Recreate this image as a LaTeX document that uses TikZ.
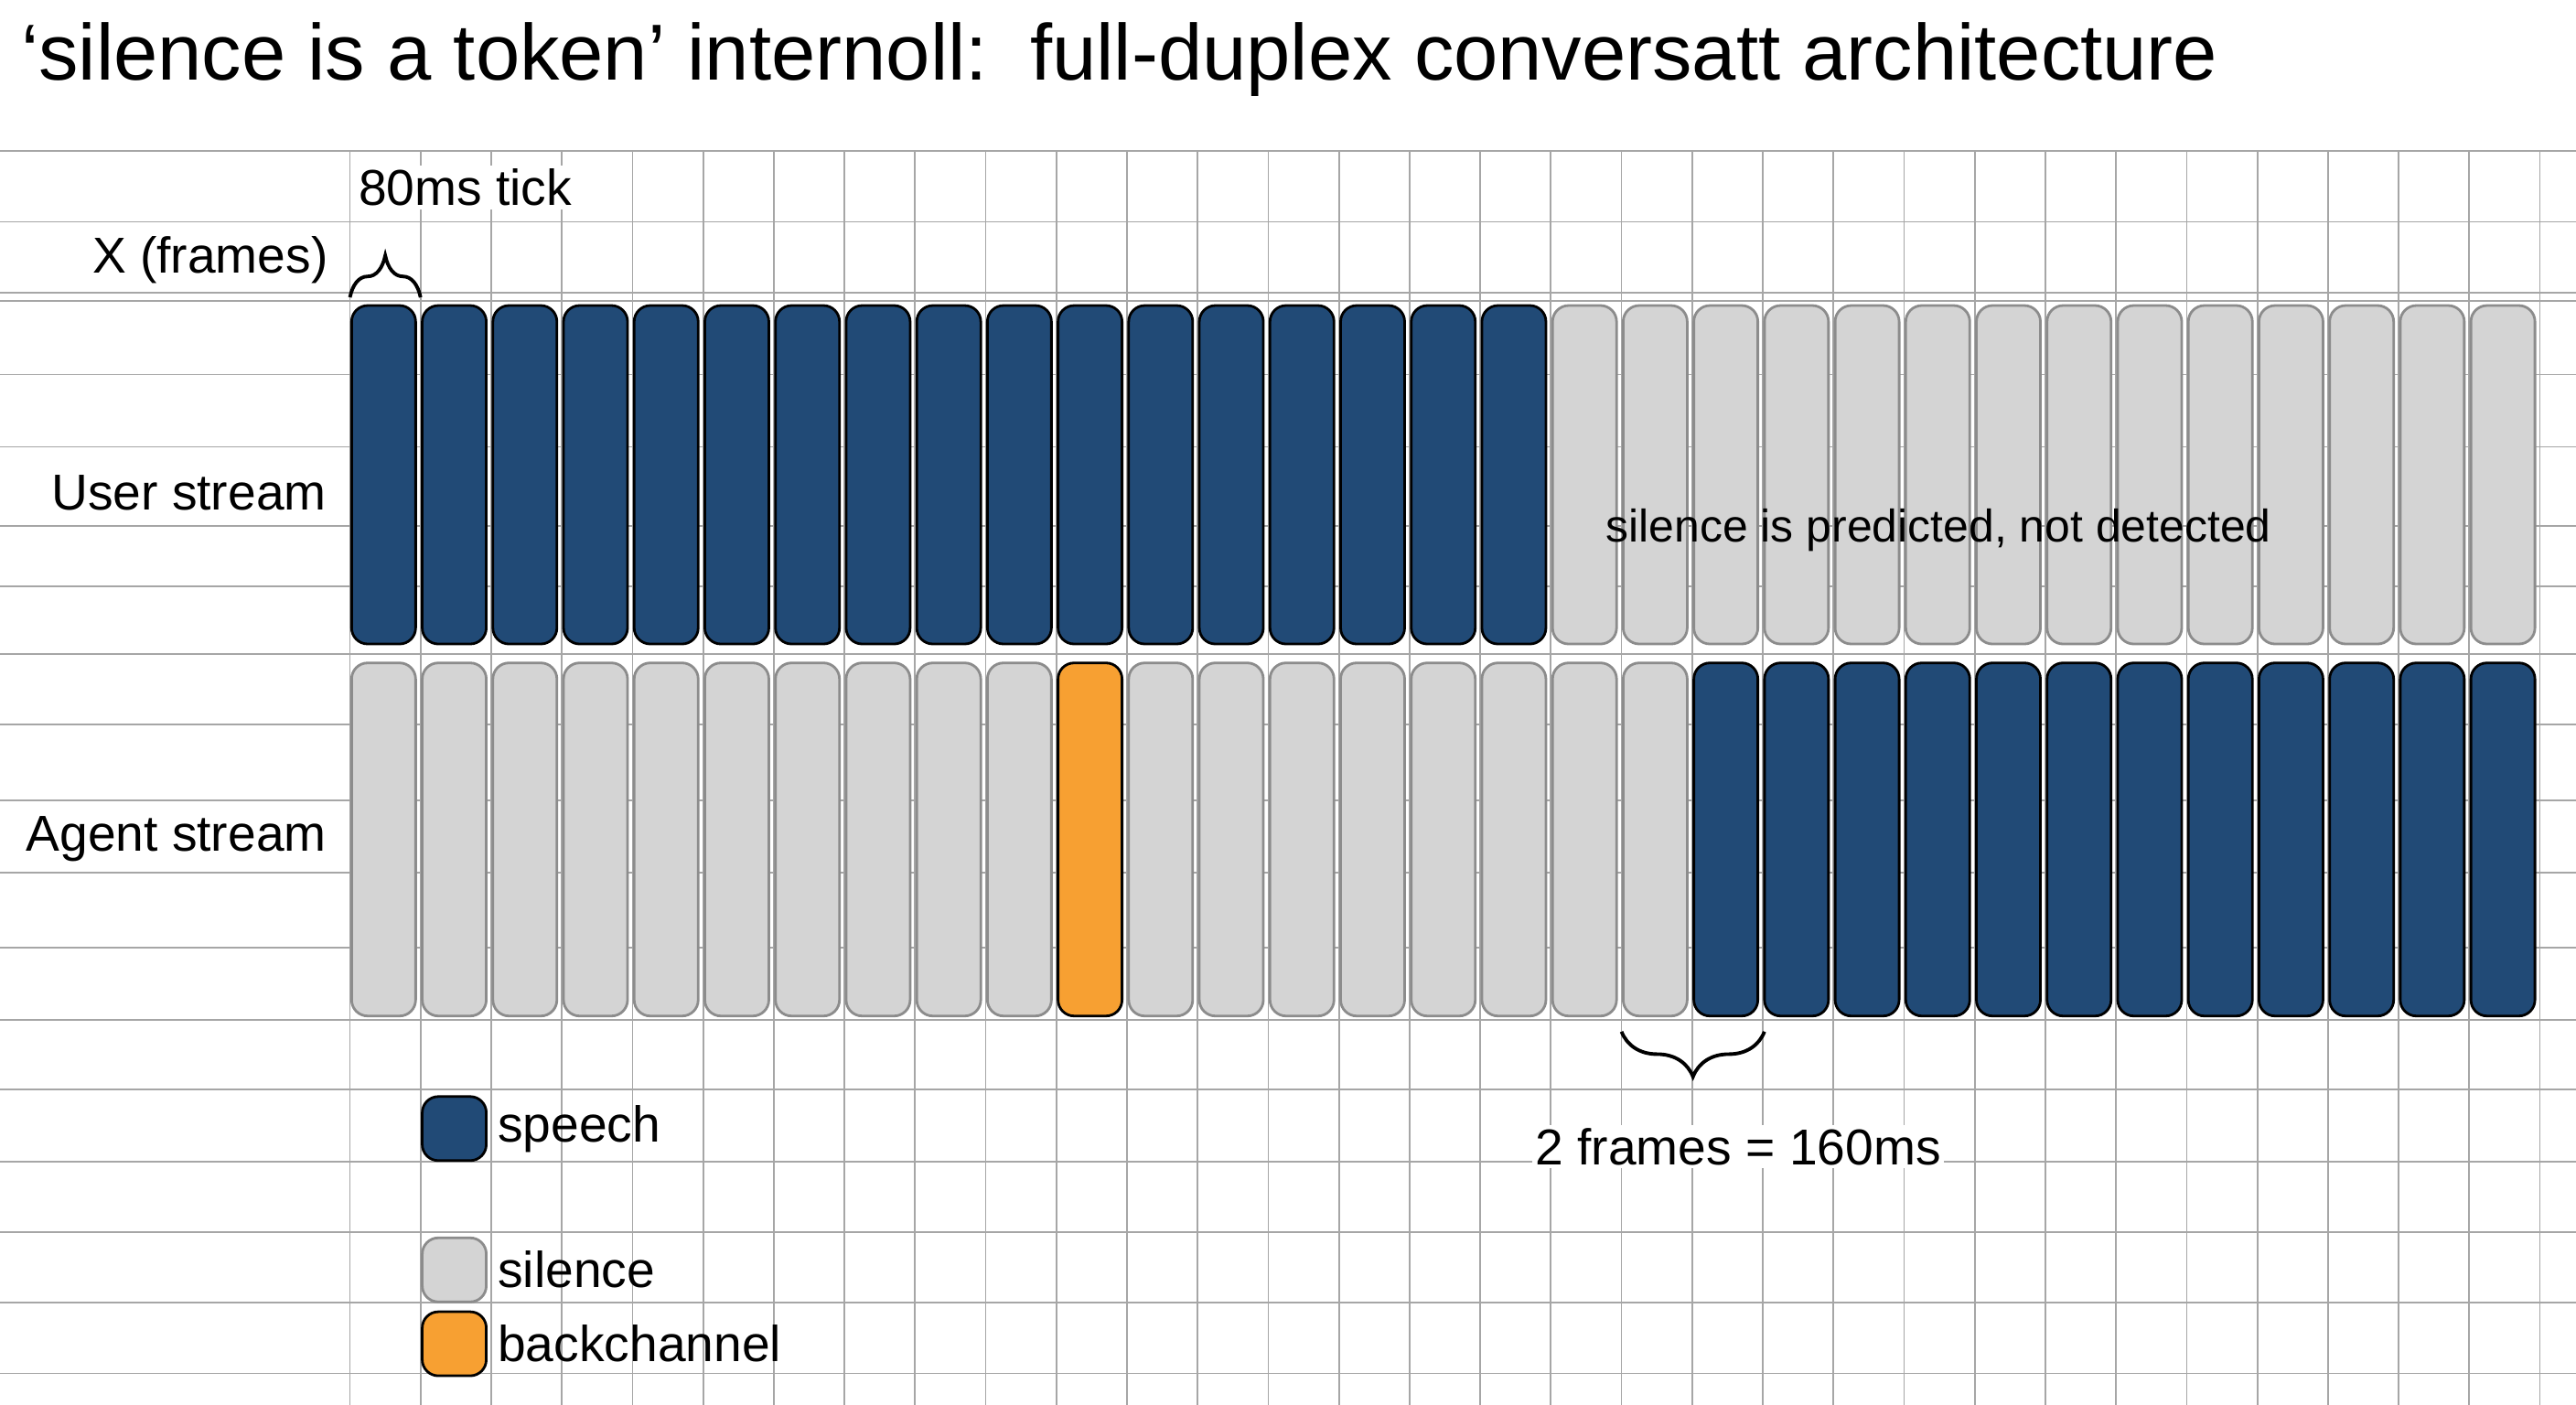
\documentclass[tikz,border=0pt]{standalone}
\usepackage{fontspec}
\setmainfont{Liberation Sans}
\usetikzlibrary{decorations.pathreplacing}
\definecolor{speechc}{HTML}{214A76}
\definecolor{silencec}{HTML}{D4D4D4}
\definecolor{backc}{HTML}{F7A032}
\begin{document}
\begin{tikzpicture}[x=0.01796cm, y=-0.01796cm,
    blk/.style={draw=black!80, line width=0.8pt, rounded corners=5pt, minimum width=0.70cm, inner sep=0pt},
    speech/.style={blk, fill=speechc, draw=black},
    silence/.style={blk, fill=silencec, draw=black!45},
    backch/.style={blk, fill=backc, draw=black},
    lbl/.style={font=\fontsize{15.7pt}{17pt}\selectfont, fill=white, inner sep=1pt},
    brc/.style={decorate, decoration={brace, amplitude=6pt}, line width=1.1pt}]
  \useasboundingbox (0,0) rectangle (1568,855);
  % grid
  \foreach \y in {92,135,178,183,228,272,320,357,398,441,487,531,577,621,663,707,750,793,836}
    \draw[black!35, line width=0.5pt] (0,\y) -- (1568,\y);
  \foreach \k in {0,...,31}
    \draw[black!35, line width=0.5pt] (213+43*\k,92) -- (213+43*\k,855);
  % title
  \node[anchor=west, font=\fontsize{24.7pt}{27pt}\selectfont] (title) at (6,36)
    {‘silence is a token’ internoll:\, full-duplex conversatt architecture};
  % streams
  \foreach \i in {0,...,30} {
    \ifnum\i<17 \def\st{speech}\else\def\st{silence}\fi
    \node[\st, minimum height=3.70cm] (u\i) at (233.5+43*\i,289) {};
  }
  \foreach \i in {0,...,30} {
    \ifnum\i<19 \def\st{silence}\else\def\st{speech}\fi
    \ifnum\i=10 \def\st{backch}\fi
    \node[\st, minimum height=3.86cm] (a\i) at (233.5+43*\i,511) {};
  }
  \node[lbl, anchor=east] (user) at (201,300) {User stream};
  \node[lbl, anchor=east] (agent) at (201,511) {Agent stream};
  \node[lbl, fill=none, font=\fontsize{14.2pt}{16pt}\selectfont] (pred) at (1180,323) {silence is predicted, not detected};
  % tick brace
  \coordinate (t0) at (213,181);
  \coordinate (t1) at (256,181);
  \draw[brc, decoration={amplitude=13pt}] (t0) -- (t1);
  \node[lbl, anchor=west] (tick) at (216,114) {80ms tick};
  \node[lbl, anchor=east] (xf) at (202,158) {X (frames)};
  % two-frame brace
  \coordinate (f0) at (1074,628);
  \coordinate (f1) at (987,628);
  \draw[brc, decoration={amplitude=14pt}] (f0) -- (f1);
  \node[lbl] (gap) at (1058,698) {2 frames = 160ms};
  % legend
  \node[speech, minimum height=0.70cm] (k1) at (276.5,687) {};
  \node[silence, minimum height=0.70cm] (k2) at (276.5,773) {};
  \node[backch, minimum height=0.70cm] (k3) at (276.5,818) {};
  \node[lbl, anchor=west, fill=none] at ([xshift=2pt]k1.east) {speech};
  \node[lbl, anchor=west, fill=none] at ([xshift=2pt]k2.east) {silence};
  \node[lbl, anchor=west, fill=none] at ([xshift=2pt]k3.east) {backchannel};
\end{tikzpicture}
\end{document}
